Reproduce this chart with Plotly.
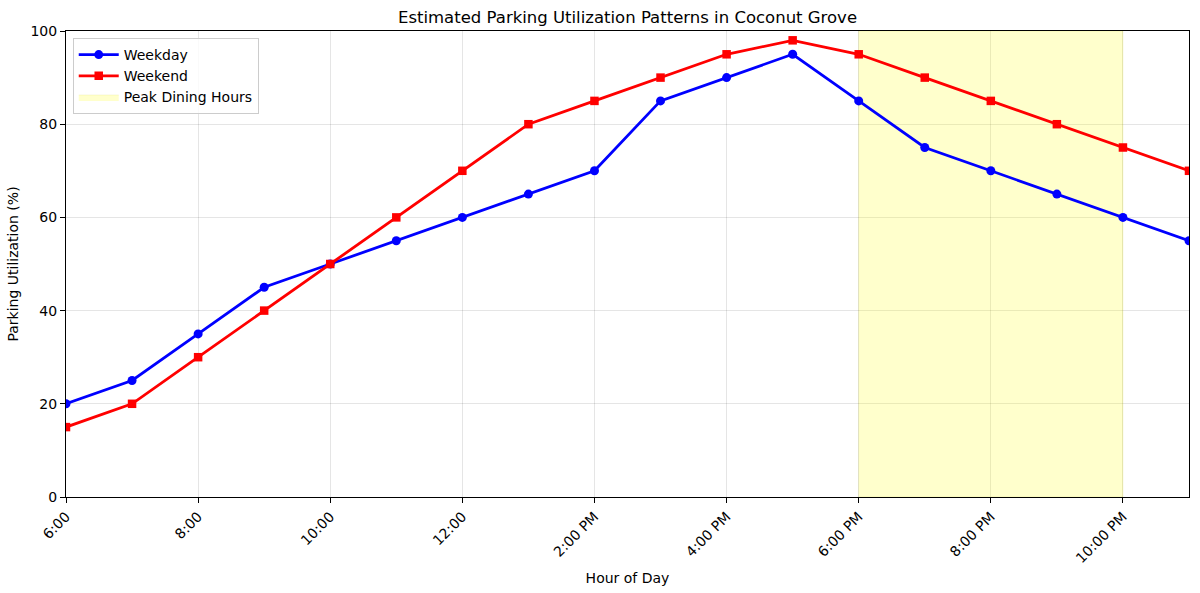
import plotly.graph_objects as go

hours = list(range(6, 24))
weekday = [20, 25, 35, 45, 50, 55, 60, 65, 70, 85, 90, 95, 85, 75, 70, 65, 60, 55]
weekend = [15, 20, 30, 40, 50, 60, 70, 80, 85, 90, 95, 98, 95, 90, 85, 80, 75, 70]
tick_vals = [6, 8, 10, 12, 14, 16, 18, 20, 22]
tick_text = ["6:00", "8:00", "10:00", "12:00", "2:00 PM", "4:00 PM", "6:00 PM", "8:00 PM", "10:00 PM"]
peak_start, peak_end = 18, 22

fig = go.Figure()
fig.add_trace(go.Scatter(
    x=[peak_start, peak_end, peak_end, peak_start, peak_start],
    y=[0, 0, 100, 100, 0], fill="toself", mode="lines",
    line=dict(width=0.5, color="rgba(200,200,0,0.25)"),
    fillcolor="rgba(255,255,0,0.2)", name="Peak Dining Hours", hoverinfo="skip"))
fig.add_trace(go.Scatter(x=hours, y=weekday, mode="lines+markers", name="Weekday",
                         line=dict(color="blue", width=2.8),
                         marker=dict(symbol="circle", size=9, color="blue")))
fig.add_trace(go.Scatter(x=hours, y=weekend, mode="lines+markers", name="Weekend",
                         line=dict(color="red", width=2.8),
                         marker=dict(symbol="square", size=8.5, color="red")))

fig.update_layout(
    width=1200, height=593, plot_bgcolor="white", paper_bgcolor="white",
    margin=dict(l=66, r=11, t=31, b=96),
    font=dict(family="DejaVu Sans", size=14, color="black"),
    title=dict(text="Estimated Parking Utilization Patterns in Coconut Grove",
               x=0.5, xref="paper", y=1 - 17/593, yanchor="middle", font=dict(size=16.5)),
    legend=dict(x=0.006, y=0.985, xanchor="left", yanchor="top",
                bgcolor="rgba(255,255,255,0.8)", bordercolor="#cccccc", borderwidth=1,
                traceorder="normal", font=dict(size=14), itemwidth=40),
    showlegend=True,
)
fig.data[1].legendrank = 1
fig.data[2].legendrank = 2
fig.data[0].legendrank = 3

fig.update_xaxes(range=[6, 23], tickvals=tick_vals, ticktext=tick_text, tickangle=-45,
                 tickfont=dict(size=14), automargin=False,
                 showgrid=True, gridcolor="rgba(0,0,0,0.1)", gridwidth=1,
                 showline=True, linecolor="black", linewidth=1, mirror=True,
                 ticks="outside", ticklen=5, tickcolor="black", zeroline=False,
                 title=dict(text="Hour of Day", font=dict(size=14), standoff=8))
fig.update_yaxes(range=[0, 100], tickvals=[0, 20, 40, 60, 80, 100],
                 tickfont=dict(size=14), automargin=False,
                 showgrid=True, gridcolor="rgba(0,0,0,0.1)", gridwidth=1,
                 showline=True, linecolor="black", linewidth=1, mirror=True,
                 ticks="outside", ticklen=5, tickcolor="black", zeroline=False,
                 title=dict(text="Parking Utilization (%)", font=dict(size=14), standoff=8))

fig.write_html("out.html")
